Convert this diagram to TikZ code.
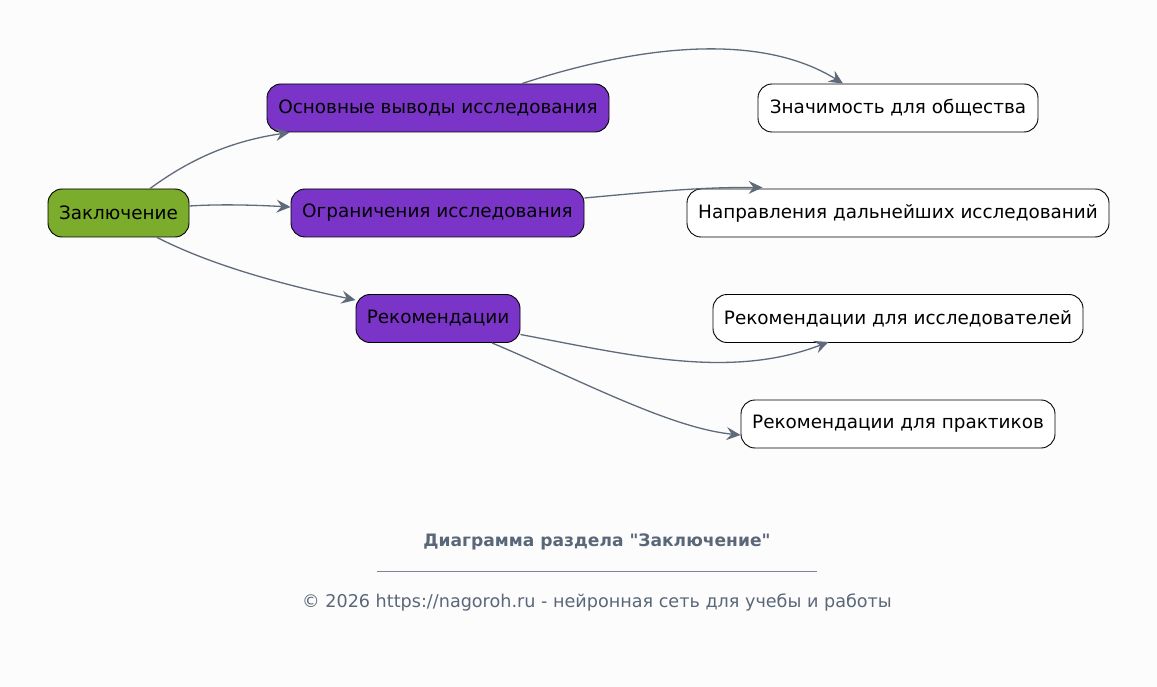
\documentclass[tikz,border=0pt]{standalone}
\usepackage{fontspec}
\setmainfont{DejaVu Sans}[Ligatures=TeXOff]
\usetikzlibrary{arrows.meta}
\definecolor{bg}{HTML}{FCFCFC}
\definecolor{greenfill}{HTML}{7CAC2C}
\definecolor{purplefill}{HTML}{7A35C8}
\definecolor{edgecol}{HTML}{5F6B7A}
\definecolor{footcol}{HTML}{5A6778}
\tikzset{
  x=1pt, y=-1pt,
  box/.style={draw=black, line width=0.9pt, rounded corners=14pt, minimum height=48pt,
    inner sep=0pt, align=center, font=\fontsize{18.4}{21}\selectfont, text=black},
  rootbox/.style={box, fill=greenfill},
  midbox/.style={box, fill=purplefill},
  leafbox/.style={box, fill=white},
  conn/.style={draw=edgecol, line width=1.3pt, -{Stealth[length=14pt, width=13pt, inset=5pt]}},
}
\begin{document}
\begin{tikzpicture}
\fill[bg] (0,0) rectangle (1157,687);
\useasboundingbox (0,0) rectangle (1157,687);

\node[rootbox, minimum width=141pt] (z) at (118.5,213) {Заключение};
\node[midbox, minimum width=342pt] (o) at (438,108) {Основные выводы исследования};
\node[midbox, minimum width=293pt] (g) at (437.5,213) {Ограничения исследования};
\node[midbox, minimum width=164pt] (r) at (438,318.5) {Рекомендации};
\node[leafbox, minimum width=280pt] (s) at (898,108) {Значимость для общества};
\node[leafbox, minimum width=422pt] (n) at (898,213) {Направления дальнейших исследований};
\node[leafbox, minimum width=370pt] (ri) at (898,318.5) {Рекомендации для исследователей};
\node[leafbox, minimum width=314pt] (rp) at (898,424) {Рекомендации для практиков};

\draw[conn] ([xshift=31.5pt]z.north) .. controls (185,163) and (225,142) .. ([xshift=23pt]o.south west);
\draw[conn] ([yshift=7pt]z.east) .. controls (220,204) and (255,205) .. ([yshift=6pt]g.west);
\draw[conn] ([xshift=38.5pt]z.south) .. controls (205,262) and (270,282) .. ([yshift=-6pt]r.north west);
\draw[conn] ([xshift=84pt]o.north) .. controls (640,45) and (760,32) .. ([xshift=-55pt]s.north);
\draw[conn] ([yshift=15pt]g.east) .. controls (650,192) and (700,187) .. ([xshift=76pt, yshift=1pt]n.north west);
\draw[conn] ([yshift=-16pt]r.east) .. controls (630,355) and (730,380) .. ([xshift=116pt, yshift=1pt]ri.south west);
\draw[conn] ([xshift=54pt]r.south) .. controls (580,380) and (670,428) .. ([yshift=-11pt]rp.west);

\node[font=\bfseries\fontsize{17.1}{20}\selectfont, text=footcol] (title) at (597,542) {Диаграмма раздела "Заключение"};
\coordinate (la) at (377,571);
\coordinate (lb) at (817,571);
\draw[footcol!80, line width=0.7pt] (la) -- (lb);
\node[font=\fontsize{17.6}{20}\selectfont, text=footcol] (foot) at (597,602) {© 2026 https://nagoroh.ru - нейронная сеть для учебы и работы};
\end{tikzpicture}
\end{document}
